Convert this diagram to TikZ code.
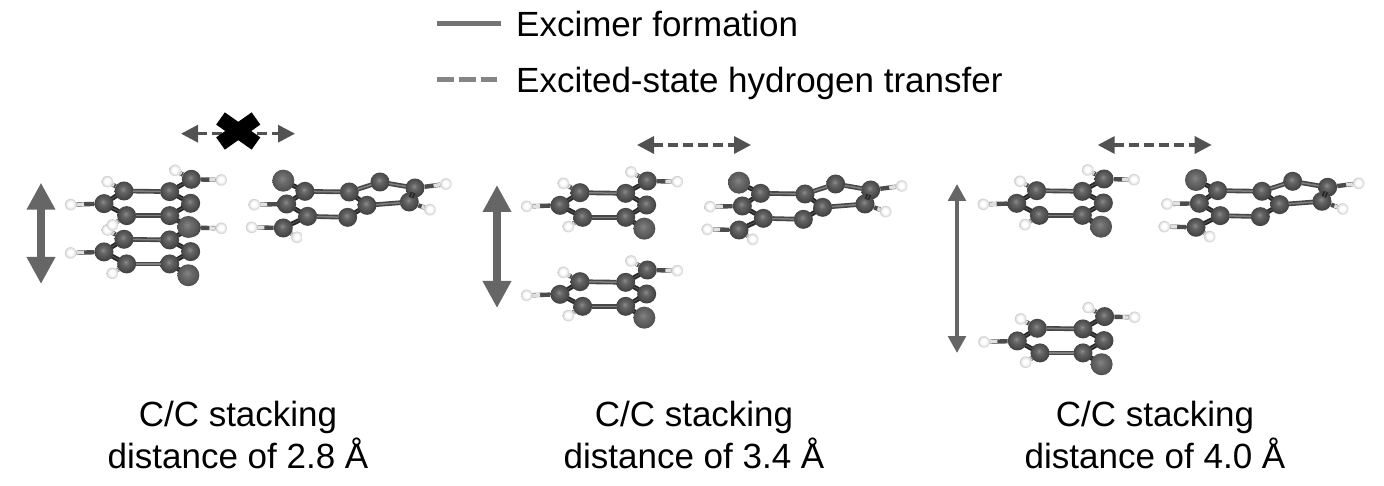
\documentclass[tikz,border=0pt]{standalone}
\usepackage{fontspec}
\setmainfont{Liberation Sans}
\usetikzlibrary{arrows.meta,calc}
\pgfdeclareradialshading{cball}{\pgfpoint{-3bp}{5bp}}{color(0bp)=(black!45); color(8bp)=(black!60); color(20bp)=(black!70); color(30bp)=(black!78); color(50bp)=(black!85)}
\pgfdeclareradialshading{sball}{\pgfpoint{-3bp}{5bp}}{color(0bp)=(black!48); color(10bp)=(black!58); color(22bp)=(black!66); color(30bp)=(black!72); color(50bp)=(black!80)}
\pgfdeclareradialshading{hball}{\pgfpoint{-2bp}{3bp}}{color(0bp)=(white); color(10bp)=(white); color(18bp)=(black!8); color(26bp)=(black!22); color(50bp)=(black!40)}
\tikzset{
  catom/.style={circle,inner sep=0pt,minimum size=19pt,shading=cball},
  satom/.style={circle,inner sep=0pt,minimum size=22pt,shading=sball},
  hatom/.style={circle,inner sep=0pt,minimum size=11.5pt,shading=hball},
  bond/.style={draw=black!72,double=black!50,line width=1.6pt,double distance=1.5pt,shorten <=-.6pt,shorten >=-.6pt},
  darkbond/.style={draw=black!85,double=black!70,line width=1.7pt,double distance=1.3pt,shorten <=-.6pt,shorten >=-.6pt},
  hbond/.style={draw=black!70,line width=4.4pt},
  hend/.style={draw=black!12,line width=3.6pt},
  stack/.style={draw=black!60,line width=8pt,{Triangle[length=27pt,width=27pt]}-{Triangle[length=27pt,width=27pt]}},
  thinstack/.style={draw=black!60,line width=4pt,{Triangle[length=17pt,width=17.5pt]}-{Triangle[length=17pt,width=17.5pt]}},
  transfer/.style={draw=black!68,line width=3.3pt,dash pattern=on 10pt off 5pt,{Triangle[length=17pt,width=17pt]}-{Triangle[length=17pt,width=17pt]}},
  legsolid/.style={draw=black!55,line width=5.5pt},
  legdash/.style={draw=black!48,line width=5pt,dash pattern=on 16.5pt off 5.5pt},
  lab/.style={font=\fontsize{35}{42}\selectfont,inner sep=0pt,anchor=base,text=black},
  leg/.style={font=\fontsize{35}{42}\selectfont,inner sep=0pt,anchor=base west,text=black},
  cross/.style={draw=black,line width=15pt}
}
\newcommand{\chb}[2]{\draw[hbond] (#1)--(#2);\draw[hend] ($(#1)!.6!(#2)$)--(#2);}
\newcommand{\smallmol}[3]{%
\begin{scope}[name prefix=#1-,shift={(#2,#3)},x=.33333pt,y=-.33333pt]
\foreach \n/\p in {a/{300,188},b/{240,226},c/{308,262},d/{437,190},e/{437,262},f/{500,225},g/{502,153}}
  \node[catom] (\n) at (\p) {};
\node[satom] (s) at (493,296) {};
\foreach \n/\p in {h1/{250,160},h2/{140,229},h3/{265,290},h4/{453,126},h5/{592,155}}
  \node[hatom] (\n) at (\p) {};
\draw[bond] (a)--(d);
\draw[bond] (c)--(e);
\foreach \u/\v in {a/b,b/c,d/f,f/e,d/g,e/s}
  \draw[darkbond] (\u)--(\v);
\chb{a}{h1}\chb{b}{h2}\chb{c}{h3}\chb{g}{h4}\chb{g}{h5}
\end{scope}}
\newcommand{\bigmol}[3]{%
\begin{scope}[name prefix=#1-,shift={(#2,#3)},x=.33333pt,y=-.33333pt]
\foreach \n/\p in {a/{842,190},b/{787,228},c/{850,265},d/{975,192},e/{1028,232},f/{970,268},g/{1067,162},i/{1172,180},j/{1155,222},k/{777,300}}
  \node[catom] (\n) at (\p) {};
\node[satom] (s) at (777,158) {};
\foreach \n/\p in {h1/{690,230},h2/{682,298},h3/{818,328},h4/{1265,168},h5/{1217,245}}
  \node[hatom] (\n) at (\p) {};
\foreach \u/\v in {a/d,c/f,e/j,g/i,d/g}
  \draw[bond] (\u)--(\v);
\foreach \u/\v in {s/a,a/b,b/c,d/e,e/f,i/j,c/k}
  \draw[darkbond] (\u)--(\v);
\chb{b}{h1}\chb{k}{h2}\chb{k}{h3}\chb{i}{h4}\chb{j}{h5}
\end{scope}}
\begin{document}
\begin{tikzpicture}[x=1pt,y=-1pt]
\useasboundingbox[fill=white] (0,0) rectangle (1384,486);
% legend
\coordinate (ls1) at (437,23.5); \coordinate (ls2) at (501,23.5);
\coordinate (ld1) at (437,79.5); \coordinate (ld2) at (497,79.5);
\draw[legsolid] (ls1)--(ls2);
\draw[legdash] (ld1)--(ld2);
\node[leg] (legA) at (516,36.5) {Excimer formation};
\node[leg] (legB) at (516,92.5) {Excited-state hydrogen transfer};
% panel 1
\smallmol{p1low}{24}{176.6}
\smallmol{p1top}{24}{128.3}
\bigmol{p1big}{24.3}{128}
\coordinate (s1a) at (41,182.7); \coordinate (s1b) at (41,284);
\draw[stack] (s1a)--(s1b);
\coordinate (t1a) at (181,133.7); \coordinate (t1b) at (295,133.7);
\draw[transfer] (t1a)--(t1b);
\coordinate (x1) at (220.5,118.5); \coordinate (x2) at (256,143.5);
\coordinate (x3) at (220.5,143.5); \coordinate (x4) at (256,118.5);
\draw[cross] (x1)--(x2);
\draw[cross] (x3)--(x4);
\node[lab] (cap1a) at (238,426) {C/C stacking};
\node[lab] (cap1b) at (238,468) {distance of 2.8 Å};
% panel 2
\smallmol{p2top}{480}{130}
\smallmol{p2low}{480}{219}
\bigmol{p2big}{480}{130}
\coordinate (s2a) at (497,185); \coordinate (s2b) at (497,308);
\draw[stack] (s2a)--(s2b);
\coordinate (t2a) at (637,145); \coordinate (t2b) at (751,145);
\draw[transfer] (t2a)--(t2b);
\node[lab] (cap2a) at (694,426) {C/C stacking};
\node[lab] (cap2b) at (694,468) {distance of 3.4 Å};
% panel 3
\smallmol{p3top}{936.7}{128}
\smallmol{p3low}{937.3}{265.6}
\bigmol{p3big}{937}{127.3}
\coordinate (s3a) at (957,184); \coordinate (s3b) at (957,353);
\draw[thinstack] (s3a)--(s3b);
\coordinate (t3a) at (1097.7,145); \coordinate (t3b) at (1211.7,145);
\draw[transfer] (t3a)--(t3b);
\node[lab] (cap3a) at (1155,426) {C/C stacking};
\node[lab] (cap3b) at (1155,468) {distance of 4.0 Å};
\end{tikzpicture}
\end{document}
